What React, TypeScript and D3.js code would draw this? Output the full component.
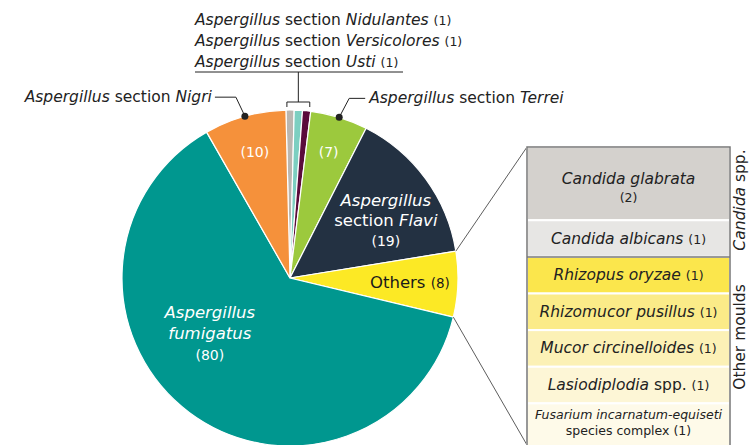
import React from 'react';
import * as d3 from 'd3';

// pie slices, clockwise from the top
const slices = ['Nidulantes', 'Versicolores', 'Usti', 'Terrei', 'Flavi', 'Others', 'fumigatus', 'Nigri'];
const counts = [1, 1, 1, 7, 19, 8, 80, 10];
const sliceColors = ['#bab6b0', '#7ccfc1', '#5a0b3b', '#9cc93d', '#233142', '#fce925', '#00978f', '#f5913b'];

// breakdown of "Others"
const otherNames = ['Candida glabrata', 'Candida albicans', 'Rhizopus oryzae', 'Rhizomucor pusillus', 'Mucor circinelloides', 'Lasiodiplodia', 'Fusarium incarnatum-equiseti'];
const otherCounts = [2, 1, 1, 1, 1, 1, 1];
const otherColors = ['#d4d1cd', '#e7e6e4', '#fbe64c', '#fbeb88', '#fcf1b6', '#fdf6d6', '#fefae9'];

const W = 750, H = 445;
const cx = 290, cy = 278, R = 168;
const font = '"DejaVu Sans", "Liberation Sans", Arial, sans-serif';
const offset = -1.4 * Math.PI / 180;

const pie = d3.pie<number>().sort(null).startAngle(offset).endAngle(offset + 2 * Math.PI);
const arcs = pie(counts);
const arcGen = d3.arc<d3.PieArcDatum<number>>().innerRadius(0).outerRadius(R);

// point on a circle of radius r, angle measured clockwise from 12 o'clock
const polar = (a: number, r: number): [number, number] => [cx + r * Math.sin(a), cy - r * Math.cos(a)];
const mid = (a: d3.PieArcDatum<number>) => (a.startAngle + a.endAngle) / 2;

function Label({ x, y, children, anchor = 'middle', size = 15, fill = '#222' }: any) {
  return <text x={x} y={y} textAnchor={anchor} fontSize={size} fill={fill} fontFamily={font}>{children}</text>;
}

export default function App() {
  const idx = (n: string) => slices.indexOf(n);
  const nigri = arcs[idx('Nigri')], terrei = arcs[idx('Terrei')], flavi = arcs[idx('Flavi')];
  const others = arcs[idx('Others')], fumi = arcs[idx('fumigatus')];
  const small0 = arcs[idx('Nidulantes')], small2 = arcs[idx('Usti')];

  // right hand box
  const boxX = 527, boxW = 203;
  const cum = d3.cumsum(otherCounts);
  const y = d3.scaleLinear().domain([0, d3.sum(otherCounts)]).range([147, 440]);
  const rows = otherNames.map((n, i) => ({
    n, i,
    y0: y(cum[i] - otherCounts[i]),
    y1: i === otherNames.length - 1 ? H + 10 : y(cum[i]),
  }));

  const pTop = polar(flavi.endAngle, R);
  const pBot = polar(others.endAngle, R);

  const [nx, ny] = polar(mid(nigri), R);
  const [tx, ty] = polar(mid(terrei), R);
  const bx0 = polar(small0.startAngle, R)[0] + 1;
  const bx1 = polar(small2.endAngle, R)[0] - 1;
  const bmid = (bx0 + bx1) / 2;

  const at = (a: d3.PieArcDatum<number>, r: number, da = 0) => polar(mid(a) + da, r);
  const [l10x, l10y] = at(nigri, 131);
  const [l7x, l7y] = at(terrei, 132);
  const [lfx, lfy] = at(flavi, 112, 5 * Math.PI / 180);
  const [lox, loy] = at(others, 120);
  const [lux, luy] = at(fumi, 98, 18 * Math.PI / 180);

  return (
    <svg width={W} height={H} style={{ position: 'absolute', left: 0, top: 0 }}>
      <rect width={W} height={H} fill="#fff" />
      <g>
        {arcs.map((a, i) => (
          <path key={slices[i]} d={arcGen(a) as string} transform={`translate(${cx},${cy})`} fill={sliceColors[i]} stroke="#fff" strokeWidth={1.2} />
        ))}
      </g>

      {/* labels inside the pie */}
      <Label x={l10x} y={l10y + 5} fill="#fff" size={14}>({counts[idx('Nigri')]})</Label>
      <Label x={l7x} y={l7y + 5} fill="#fff" size={14}>({counts[idx('Terrei')]})</Label>
      <text x={lfx} y={lfy - 14} textAnchor="middle" fontSize={16.5} fill="#fff" fontFamily={font}>
        <tspan fontStyle="italic">Aspergillus</tspan>
        <tspan x={lfx} dy={20}>section <tspan fontStyle="italic">Flavi</tspan></tspan>
        <tspan x={lfx} dy={20} fontSize={14}>({counts[idx('Flavi')]})</tspan>
      </text>
      <text x={lox} y={loy + 6} textAnchor="middle" fontSize={16.5} fill="#1a1a1a" fontFamily={font}>
        Others <tspan fontSize={13.5}>({counts[idx('Others')]})</tspan>
      </text>
      <text x={lux} y={luy - 16} textAnchor="middle" fontSize={16.5} fill="#fff" fontFamily={font} fontStyle="italic">
        <tspan>Aspergillus</tspan>
        <tspan x={lux} dy={21}>fumigatus</tspan>
        <tspan x={lux} dy={21} fontSize={14} fontStyle="normal">({counts[idx('fumigatus')]})</tspan>
      </text>

      {/* callouts */}
      <g stroke="#222" strokeWidth={1} fill="none">
        <polyline points={`${nx - 30},${ny - 19} ${nx - 9},${ny - 19} ${nx},${ny}`} />
        <polyline points={`${tx},${ty} ${tx + 10},${ty - 19} ${tx + 26},${ty - 19}`} />
        <polyline points={`${bx0},${cy - R - 3} ${bx0},${cy - R - 8} ${bx1},${cy - R - 8} ${bx1},${cy - R - 3}`} />
        <line x1={bmid} x2={bmid} y1={cy - R - 8} y2={72} />
        <line x1={195} x2={403} y1={72} y2={72} />
      </g>
      <circle cx={nx} cy={ny} r={3.5} fill="#222" />
      <circle cx={tx} cy={ty} r={3.5} fill="#222" />

      <text x={nx - 33} y={ny - 14} textAnchor="end" fontSize={15.5} fill="#222" fontFamily={font}>
        <tspan fontStyle="italic">Aspergillus</tspan> section <tspan fontStyle="italic">Nigri</tspan>
      </text>
      <text x={tx + 30} y={ty - 14} fontSize={15.5} fill="#222" fontFamily={font}>
        <tspan fontStyle="italic">Aspergillus</tspan> section <tspan fontStyle="italic">Terrei</tspan>
      </text>
      {['Nidulantes', 'Versicolores', 'Usti'].map((n, i) => (
        <text key={n} x={195} y={25 + i * 21} fontSize={15.5} fill="#222" fontFamily={font}>
          <tspan fontStyle="italic">Aspergillus</tspan> section <tspan fontStyle="italic">{n}</tspan> <tspan fontSize={12.5}>({counts[idx(n)]})</tspan>
        </text>
      ))}

      {/* zoom lines to the box */}
      <line x1={pTop[0]} y1={pTop[1]} x2={boxX} y2={y(0)} stroke="#333" strokeWidth={0.8} />
      <line x1={pBot[0]} y1={pBot[1]} x2={boxX} y2={H} stroke="#333" strokeWidth={0.8} />

      {/* breakdown box */}
      <g>
        {rows.map(r => (
          <rect key={r.n} x={boxX} y={r.y0} width={boxW} height={r.y1 - r.y0} fill={otherColors[r.i]} stroke="#fff" strokeWidth={2} />
        ))}
        <line x1={boxX} x2={boxX + boxW} y1={rows[2].y0} y2={rows[2].y0} stroke="#777" strokeWidth={1.5} />
        <polyline points={`${boxX},${H + 10} ${boxX},${y(0)} ${boxX + boxW},${y(0)} ${boxX + boxW},${H + 10}`} fill="none" stroke="#777" strokeWidth={1.5} />
        {rows.map(r => {
          const y1 = r.i === otherNames.length - 1 ? y(cum[r.i]) : r.y1;
          const m = (r.y0 + y1) / 2;
          const c = otherCounts[r.i];
          const xm = boxX + boxW / 2;
          if (r.i === 0) return (
            <text key={r.n} x={xm} y={m} textAnchor="middle" fontSize={15.5} fill="#222" fontFamily={font}>
              <tspan fontStyle="italic">{r.n}</tspan>
              <tspan x={xm} dy={18} fontSize={12.5}>({c})</tspan>
            </text>
          );
          if (r.n === 'Lasiodiplodia') return (
            <text key={r.n} x={xm} y={m + 5} textAnchor="middle" fontSize={15.5} fill="#222" fontFamily={font}>
              <tspan fontStyle="italic">{r.n}</tspan> spp. <tspan fontSize={12.5}>({c})</tspan>
            </text>
          );
          if (r.n.startsWith('Fusarium')) return (
            <text key={r.n} x={xm} y={m - 3} textAnchor="middle" fontSize={12.5} fill="#222" fontFamily={font}>
              <tspan fontStyle="italic">{r.n}</tspan>
              <tspan x={xm} dy={16}>species complex ({c})</tspan>
            </text>
          );
          return (
            <text key={r.n} x={xm} y={m + 5} textAnchor="middle" fontSize={15.5} fill="#222" fontFamily={font}>
              <tspan fontStyle="italic">{r.n}</tspan> <tspan fontSize={12.5}>({c})</tspan>
            </text>
          );
        })}
      </g>

      {/* group labels */}
      <text transform={`translate(745,200) rotate(-90)`} textAnchor="middle" fontSize={15.5} fill="#222" fontFamily={font}>
        <tspan fontStyle="italic">Candida</tspan> spp.
      </text>
      <text transform={`translate(745,337) rotate(-90)`} textAnchor="middle" fontSize={15.5} fill="#222" fontFamily={font}>
        Other moulds
      </text>
    </svg>
  );
}
